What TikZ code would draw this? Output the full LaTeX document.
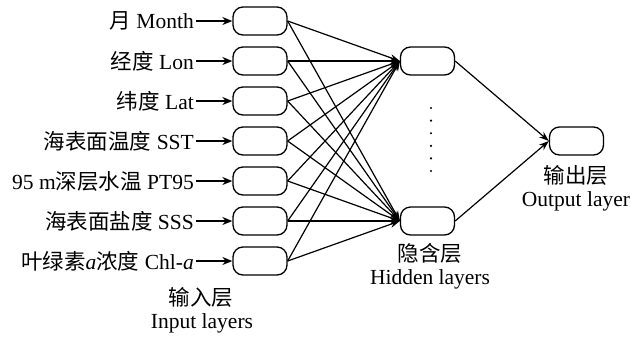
\documentclass[tikz,border=0pt]{standalone}
\usepackage{fontspec}
\setmainfont{Liberation Serif}
\newfontfamily\cjk{Noto Sans CJK SC}
\usetikzlibrary{arrows.meta}
\begin{document}
\begin{tikzpicture}[x=1pt,y=-1pt,
  neuron/.style={draw,line width=1.3pt,rounded corners=10pt,minimum width=54pt,minimum height=28pt,inner sep=0pt},
  lbl/.style={font=\fontsize{21.5}{25}\selectfont,inner sep=2pt,anchor=east},
  layercap/.style={font=\fontsize{21.5}{25}\selectfont,inner sep=0pt,align=center},
  arr/.style={line width=1.3pt,-{Stealth[length=10pt,width=8pt]}},
  conn/.style={line width=1.2pt,-{Stealth[length=10pt,width=7pt]}}]
\useasboundingbox (0,0) rectangle (643,338);
\foreach \n/\y in {1/21,2/61,3/101,4/141,5/181,6/221,7/261}{
  \node[neuron] (i\n) at (260,\y) {};
}
\node[lbl] (t1) at (196,21) {{\cjk 月} Month};
\node[lbl] (t2) at (196,61) {{\cjk 经度} Lon};
\node[lbl] (t3) at (196,101) {{\cjk 纬度} Lat};
\node[lbl] (t4) at (196,141) {{\cjk 海表面温度} SST};
\node[lbl] (t5) at (196,181) {95 m{\cjk 深层水温} PT95};
\node[lbl] (t6) at (196,221) {{\cjk 海表面盐度} SSS};
\node[lbl] (t7) at (196,261) {{\cjk 叶绿素}\textit{a}{\cjk 浓度} Chl-\textit{a}};
\foreach \n in {1,...,7}{\draw[arr] (t\n.east) -- (i\n.west);}
\node[neuron] (h1) at (427.5,61) {};
\node[neuron] (h2) at (427.5,221) {};
\node[neuron] (o) at (576.5,141) {};
\foreach \n in {1,...,7}{
  \draw[conn] (i\n.east) -- (h1.west);
  \draw[conn] (i\n.east) -- (h2.west);
}
\draw[conn] (h1.east) -- (o.west);
\draw[conn] (h2.east) -- (o.west);
\foreach \k in {0,...,5}{\fill (431,108+12.6*\k) circle (1.2pt);}
\node[layercap] (ic) at (201,297) {\cjk 输入层};
\node[layercap] (ie) at (202,323) {Input layers};
\node[layercap] (hc) at (430,253) {\cjk 隐含层};
\node[layercap] (he) at (430,279) {Hidden layers};
\node[layercap] (oc) at (576,175) {\cjk 输出层};
\node[layercap] (oe) at (576,201) {Output layer};
\end{tikzpicture}
\end{document}
